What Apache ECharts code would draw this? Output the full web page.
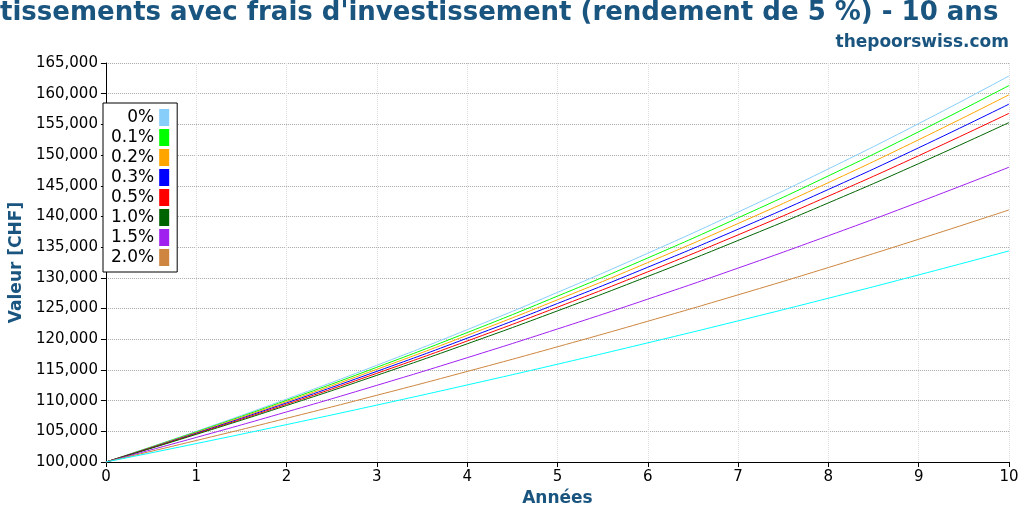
<!DOCTYPE html>
<html><head><meta charset="utf-8">
<script src="https://cdn.jsdelivr.net/npm/echarts@6/dist/echarts.min.js"></script>
<style>html,body{margin:0;padding:0;background:#fff}#c{width:1024px;height:512px}</style>
</head><body><div id="c"></div>
<script>
const years = [0,1,2,3,4,5,6,7,8,9,10];
const names = ['0%','0.1%','0.2%','0.3%','0.5%','1.0%','1.5%','2.0%','3.0%'];
const colors = ['#87cefa','#00ff00','#ffa500','#0000ff','#ff0000','#006400','#a020f0','#cd853f','#00ffff'];
const s0  = [100000,105000,110250,115760,121550,127630,134010,140710,147750,155130,162890];
const s01 = [100000,104900,110040,115430,121080,127020,133240,139770,146610,153800,161330];
const s02 = [100000,104800,109830,115100,120630,126420,132490,138850,145510,152500,159820];
const s03 = [100000,104700,109620,114770,120170,125820,131730,137920,144400,151190,158300];
const s05 = [100000,104600,109410,114450,119710,125220,130980,137000,143310,149900,156800];
const s10 = [100000,104500,109200,114120,119250,124620,130230,136090,142210,148610,155300];
const s15 = [100000,104000,108160,112490,116990,121670,126530,131590,136860,142330,148020];
const s20 = [100000,103500,107120,110870,114750,118770,122930,127230,131680,136290,141060];
const s30 = [100000,103000,106090,109270,112550,115930,119410,122990,126680,130480,134390];
const all = [s0,s01,s02,s03,s05,s10,s15,s20,s30];
const titleText = "Valeur des investissements avec frais d'investissement (rendement de 5 %) - 10 ans";
const cv = document.createElement('canvas').getContext('2d');
cv.font = "bold 26px 'DejaVu Sans'";
const off = cv.measureText("Valeur des inves").width;
const chart = echarts.init(document.getElementById('c'));
chart.setOption({
  animation:false,
  graphic:[
    {type:'text',left:-off,top:0,style:{text:titleText,font:"bold 26px 'DejaVu Sans'",fill:'#1a5580'}},
    {type:'text',right:15,top:34,style:{text:'thepoorswiss.com',font:"bold 17px 'DejaVu Sans'",fill:'#1a5580'}}
  ],
  grid:{left:98,right:15,top:63,bottom:48},
  legend:{data:names.slice(0,8),orient:'vertical',left:103,top:103,align:'right',
    backgroundColor:'#fff',borderColor:'#000',borderWidth:1,borderRadius:0,padding:[6,8,6,8],
    itemGap:3,itemWidth:10,itemHeight:17,icon:'rect',
    textStyle:{fontFamily:'DejaVu Sans',fontSize:17,color:'#000'}},
  xAxis:{type:'value',min:0,max:10,interval:1,name:'Années',nameLocation:'middle',nameGap:28,
    nameTextStyle:{fontFamily:'DejaVu Sans',fontWeight:'bold',fontSize:17,color:'#1a5580'},
    axisLine:{lineStyle:{color:'#000'}},axisTick:{lineStyle:{color:'#000'}},
    axisLabel:{fontFamily:'DejaVu Sans',fontSize:15,color:'#000'},
    splitLine:{show:true,lineStyle:{type:'dotted',color:'#ddd'}}},
  yAxis:{type:'value',min:100000,max:165000,interval:5000,name:'Valeur [CHF]',nameLocation:'middle',nameGap:76,
    nameTextStyle:{fontFamily:'DejaVu Sans',fontWeight:'bold',fontSize:17,color:'#1a5580'},
    axisLine:{show:true,lineStyle:{color:'#000'}},axisTick:{show:true,lineStyle:{color:'#000'}},
    axisLabel:{fontFamily:'DejaVu Sans',fontSize:15,color:'#000'},
    splitLine:{show:true,lineStyle:{type:'dotted',color:'#aaa'}}},
  series: all.map((d,i)=>({name:names[i],type:'line',smooth:true,symbol:'none',
    color:colors[i],lineStyle:{width:1,color:colors[i]},
    data:d.map((v,j)=>[years[j],v])}))
});
</script></body></html>
